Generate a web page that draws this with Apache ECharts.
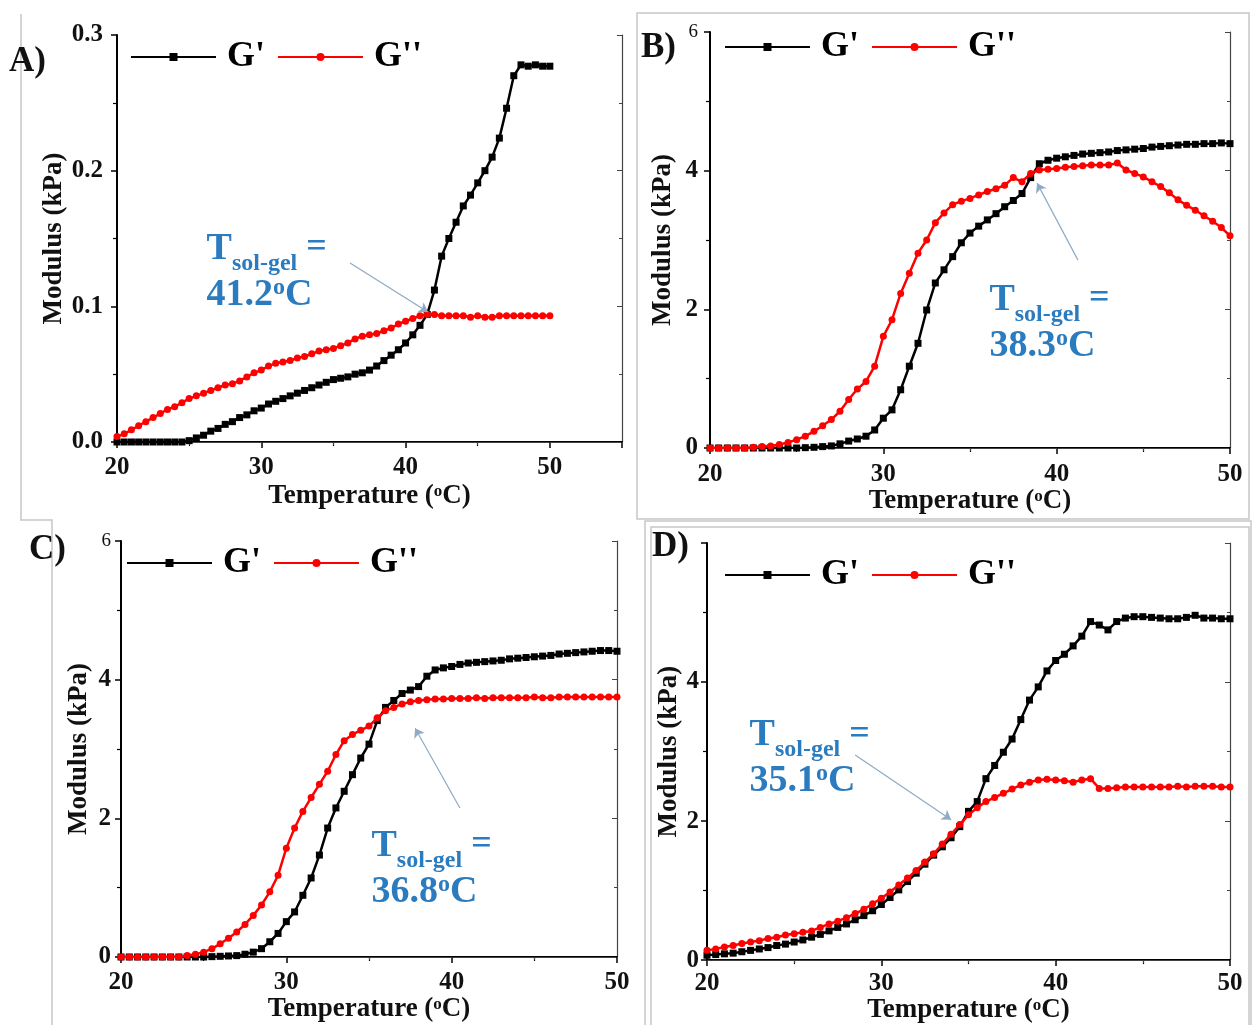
<!DOCTYPE html>
<html><head><meta charset="utf-8">
<script src="https://cdn.jsdelivr.net/npm/echarts@6/dist/echarts.min.js"></script>
<style>html,body{margin:0;padding:0;background:#fff}#c{width:1253px;height:1025px}</style>
</head><body><div id="c"></div>
<script>
// ---------------- DATA ----------------
const TEMP = [20,20.5,21,21.5,22,22.5,23,23.5,24,24.5,25,25.5,26,26.5,27,27.5,28,28.5,29,29.5,30,30.5,31,31.5,32,32.5,33,33.5,34,34.5,35,35.5,36,36.5,37,37.5,38,38.5,39,39.5,40,40.5,41,41.5,42,42.5,43,43.5,44,44.5,45,45.5,46,46.5,47,47.5,48,48.5,49,49.5,50];

const A_GP  = [0,0,0,0,0,0,0,0,0,0, 0.001,0.003,0.005,0.008,0.010,0.013,0.015,0.018,0.020,0.023, 0.025,0.028,0.030,0.032,0.034,0.036,0.038,0.040,0.042,0.044, 0.046,0.047,0.048,0.050,0.051,0.053,0.056,0.060,0.064,0.068, 0.073,0.079,0.086,0.094,0.112,0.137,0.150,0.162,0.174,0.182, 0.191,0.200,0.210,0.224,0.246,0.270,0.278,0.277,0.278,0.277,0.277];
const A_GPP = [0.004,0.006,0.009,0.012,0.015,0.018,0.021,0.024,0.026,0.029, 0.032,0.034,0.036,0.038,0.040,0.042,0.043,0.045,0.048,0.051, 0.053,0.056,0.058,0.059,0.060,0.062,0.063,0.065,0.067,0.068, 0.069,0.071,0.073,0.076,0.078,0.079,0.080,0.082,0.084,0.087, 0.089,0.091,0.093,0.094,0.094,0.093,0.093,0.093,0.093,0.092, 0.093,0.092,0.092,0.093,0.093,0.093,0.093,0.093,0.093,0.093,0.093];

const B_GP  = [0,0,0,0,0,0,0,0,0,0, 0,0.005,0.01,0.02,0.03,0.06,0.10,0.13,0.17,0.26, 0.43,0.55,0.84,1.18,1.51,1.99,2.38,2.57,2.76,2.96, 3.10,3.20,3.29,3.38,3.48,3.57,3.67,3.90,4.10,4.15, 4.18,4.20,4.22,4.24,4.25,4.26,4.27,4.29,4.30,4.31, 4.32,4.34,4.35,4.36,4.37,4.38,4.38,4.39,4.39,4.40,4.39];
const B_GPP = [0,0,0,0,0,0.01,0.02,0.03,0.05,0.08, 0.12,0.17,0.24,0.32,0.41,0.53,0.70,0.85,0.96,1.18, 1.61,1.85,2.23,2.52,2.81,3.00,3.25,3.39,3.51,3.56, 3.60,3.65,3.70,3.74,3.79,3.90,3.84,3.96,4.01,4.02, 4.03,4.05,4.06,4.07,4.08,4.08,4.08,4.11,4.01,3.96, 3.91,3.84,3.77,3.68,3.58,3.50,3.43,3.35,3.27,3.18,3.06];

const C_GP  = [0,0,0,0,0,0,0,0,0,0, 0,0.005,0.01,0.015,0.02,0.04,0.07,0.12,0.22,0.34, 0.51,0.65,0.89,1.14,1.47,1.86,2.15,2.39,2.63,2.87, 3.07,3.41,3.60,3.70,3.80,3.85,3.90,4.05,4.14,4.17, 4.19,4.22,4.24,4.25,4.26,4.27,4.28,4.30,4.31,4.32, 4.33,4.34,4.35,4.37,4.38,4.39,4.40,4.41,4.42,4.42,4.41];
const C_GPP = [0,0,0,0,0,0,0,0,0.02,0.04, 0.07,0.12,0.19,0.27,0.36,0.47,0.60,0.75,0.94,1.18, 1.57,1.86,2.10,2.30,2.49,2.68,2.92,3.12,3.21,3.27, 3.33,3.45,3.55,3.60,3.65,3.68,3.70,3.71,3.72,3.72, 3.73,3.73,3.73,3.74,3.73,3.74,3.74,3.74,3.74,3.74, 3.75,3.74,3.74,3.75,3.75,3.75,3.75,3.75,3.75,3.75,3.75];

const D_GP  = [0.07,0.08,0.09,0.10,0.12,0.14,0.16,0.18,0.21,0.23, 0.26,0.29,0.33,0.37,0.42,0.47,0.52,0.58,0.64,0.71, 0.80,0.90,1.01,1.13,1.25,1.38,1.51,1.63,1.76,1.92, 2.14,2.28,2.61,2.80,2.99,3.18,3.46,3.74,3.93,4.16, 4.31,4.40,4.52,4.66,4.87,4.82,4.75,4.87,4.92,4.94, 4.94,4.93,4.92,4.91,4.91,4.93,4.96,4.92,4.92,4.91,4.91];
const D_GPP = [0.14,0.16,0.19,0.21,0.24,0.26,0.28,0.31,0.33,0.36, 0.38,0.40,0.42,0.47,0.52,0.56,0.61,0.67,0.73,0.81, 0.89,0.98,1.08,1.18,1.29,1.41,1.53,1.67,1.81,1.95, 2.09,2.19,2.28,2.34,2.40,2.46,2.52,2.56,2.59,2.60, 2.59,2.58,2.56,2.59,2.61,2.47,2.47,2.48,2.49,2.49, 2.49,2.49,2.49,2.49,2.50,2.49,2.50,2.50,2.50,2.49,2.49];

const SERIES_NAMES = ["G'", "G''"];
const PANEL_LABELS = ['A)', 'B)', 'C)', 'D)'];
const TSOLGEL = ['41.2', '38.3', '36.8', '35.1'];
// annotation text anchor (top-left) and arrow [start, tip], in data units
const ANNOT_POS = [[26.24, 0.156], [36.15, 2.40], [35.18, 1.87], [22.47, 3.50]];
const ARROWS = [
  [[36.15, 0.132], [41.55, 0.0958]],
  [[41.23, 2.71], [38.87, 3.82]],
  [[40.5, 2.15], [37.79, 3.30]],
  [[28.5, 2.95], [34.0, 2.02]]
];

// ---------------- LAYOUT / STYLE ----------------
const SERIF = "'Liberation Serif','Times New Roman',serif";
const BLUE = '#2b7bbf';
const panels = [
  {grid:{left:117,top:35,width:505,height:407}, xMax:55, yMax:0.3, yInt:0.1, dec:1, gp:A_GP, gpp:A_GPP,
   legend:{left:130,top:39}, xGap:41, yGap:49, xMargin:13, yMargin:14, smallMax:false, hideMax:false},
  {grid:{left:710,top:32,width:520,height:416}, xMax:50, yMax:6, yInt:2, dec:0, gp:B_GP, gpp:B_GPP,
   legend:{left:724,top:29}, xGap:40, yGap:33, xMargin:14, yMargin:12, smallMax:true, hideMax:false},
  {grid:{left:121,top:541,width:496,height:416}, xMax:50, yMax:6, yInt:2, dec:0, gp:C_GP, gpp:C_GPP,
   legend:{left:126,top:545}, xGap:34, yGap:28, xMargin:13, yMargin:10, smallMax:true, hideMax:false},
  {grid:{left:707,top:543,width:523,height:423}, xMax:50, yMax:6, yInt:2, dec:0, gp:D_GP, gpp:D_GPP,
   legend:{left:724,top:557}, xGap:31, yGap:24, xMargin:11, yMargin:8, smallMax:false, hideMax:true}
];

const tickLabel = {fontFamily:SERIF, fontWeight:'bold', fontSize:25, color:'#111'};
const grids = [], xAxes = [], yAxes = [], series = [], legends = [];

panels.forEach((p, i) => {
  grids.push(Object.assign({containLabel:false}, p.grid));
  // bottom x
  xAxes.push({
    gridIndex:i, type:'value', min:20, max:p.xMax, interval:10, position:'bottom',
    axisLine:{lineStyle:{color:'#000', width:2}},
    axisTick:{show:true, inside:false, length:6, lineStyle:{color:'#000', width:1.5}},
    minorTick:{show:true, splitNumber:2, length:4, lineStyle:{color:'#000', width:1.2}},
    splitLine:{show:false},
    axisLabel:Object.assign({margin:p.xMargin, showMaxLabel: p.xMax === 50}, tickLabel),
    name:'{t|Temperature (}{s|o}{t|C)}', nameLocation:'middle', nameGap:p.xGap,
    nameTextStyle:{rich:{
      t:{fontFamily:SERIF, fontWeight:'bold', fontSize:27, color:'#111', lineHeight:28, verticalAlign:'top'},
      s:{fontFamily:SERIF, fontWeight:'bold', fontSize:17, color:'#111', lineHeight:17, verticalAlign:'top'}
    }}
  });
  // top mirror
  xAxes.push({
    gridIndex:i, type:'value', min:20, max:p.xMax, interval:10, position:'top',
    axisLine:{lineStyle:{color:'#444', width:1.2}},
    axisTick:{show:true, inside:true, length:5, lineStyle:{color:'#444', width:1}},
    minorTick:{show:true, splitNumber:2, length:3, lineStyle:{color:'#444', width:1}},
    splitLine:{show:false}, axisLabel:{show:false}
  });
  // left y
  yAxes.push({
    gridIndex:i, type:'value', min:0, max:p.yMax, interval:p.yInt, position:'left',
    axisLine:{lineStyle:{color:'#000', width:2}},
    axisTick:{show:true, inside:false, length:6, lineStyle:{color:'#000', width:1.5}},
    minorTick:{show:true, splitNumber:2, length:4, lineStyle:{color:'#000', width:1.2}},
    splitLine:{show:false},
    axisLabel:Object.assign({
      margin:p.yMargin, showMaxLabel: !p.hideMax,
      formatter:(v) => {
        const s = v.toFixed(p.dec);
        return (p.smallMax && Math.abs(v - p.yMax) < 1e-9) ? '{m|' + s + '}' : s;
      },
      rich:{m:{fontFamily:SERIF, fontWeight:'normal', fontSize:19, color:'#111'}}
    }, tickLabel),
    name:'Modulus (kPa)', nameLocation:'middle', nameRotate:90, nameGap:p.yGap,
    nameTextStyle:{fontFamily:SERIF, fontWeight:'bold', fontSize:27, color:'#111'}
  });
  // right mirror
  yAxes.push({
    gridIndex:i, type:'value', min:0, max:p.yMax, interval:p.yInt, position:'right',
    axisLine:{lineStyle:{color:'#444', width:1.2}},
    axisTick:{show:true, inside:true, length:5, lineStyle:{color:'#444', width:1}},
    minorTick:{show:true, splitNumber:2, length:3, lineStyle:{color:'#444', width:1}},
    splitLine:{show:false}, axisLabel:{show:false}
  });

  series.push({
    name:SERIES_NAMES[0], type:'line', xAxisIndex:2*i, yAxisIndex:2*i,
    data:TEMP.map((t, k) => [t, p.gp[k]]),
    symbol:'rect', symbolSize:7, showAllSymbol:true,
    lineStyle:{color:'#000', width:2.5}, itemStyle:{color:'#000'},
    animation:false, z:3
  });
  series.push({
    name:SERIES_NAMES[1], type:'line', xAxisIndex:2*i, yAxisIndex:2*i,
    data:TEMP.map((t, k) => [t, p.gpp[k]]),
    symbol:'circle', symbolSize:7, showAllSymbol:true,
    lineStyle:{color:'#f00', width:2.5}, itemStyle:{color:'#f00'},
    animation:false, z:4,
    markLine:{
      silent:true, animation:false, symbol:['none','arrow'], symbolSize:9,
      lineStyle:{color:'#8eaac4', width:1.2, type:'solid'},
      label:{show:false},
      data:[[{coord:ARROWS[i][0]}, {coord:ARROWS[i][1], itemStyle:{color:'#4a8fd0'}}]]
    },
    markPoint:{
      silent:true, animation:false, symbol:'rect', symbolSize:1,
      itemStyle:{color:'rgba(0,0,0,0)'},
      data:[{coord:ANNOT_POS[i], value:TSOLGEL[i]}],
      label:{
        show:true, position:[0,0], align:'left', verticalAlign:'top',
        formatter:(prm) => '{T|T}{s|sol-gel}{e| =}\n{n|' + prm.value + '}{o|o}{n|C}',
        rich:{
          T:{fontFamily:SERIF, fontWeight:'bold', fontSize:38, color:BLUE, lineHeight:46, verticalAlign:'top'},
          s:{fontFamily:SERIF, fontWeight:'bold', fontSize:24, color:BLUE, lineHeight:24, padding:[22,0,4,0], verticalAlign:'top'},
          e:{fontFamily:SERIF, fontWeight:'bold', fontSize:36, color:BLUE, lineHeight:46, verticalAlign:'top'},
          n:{fontFamily:SERIF, fontWeight:'bold', fontSize:38, color:BLUE, lineHeight:40, verticalAlign:'top'},
          o:{fontFamily:SERIF, fontWeight:'bold', fontSize:24, color:BLUE, lineHeight:22, verticalAlign:'top'}
        }
      }
    }
  });

  legends.push({
    left:p.legend.left, top:p.legend.top, padding:0, orient:'horizontal',
    itemWidth:85, itemHeight:10, itemGap:12, selectedMode:false,
    data:SERIES_NAMES,
    textStyle:{fontFamily:SERIF, fontWeight:'bold', fontSize:36, color:'#000', padding:[0,0,0,6]}
  });
});

const frameStyle = {fill:'none', stroke:'#c6c6c6', lineWidth:1.5};
const graphics = [
  {type:'polyline', shape:{points:[[21,14],[21,520],[52,520],[52,1025]]}, style:frameStyle, silent:true},
  {type:'rect', shape:{x:637, y:13, width:612, height:506}, style:frameStyle, silent:true},
  {type:'rect', shape:{x:645, y:521, width:606, height:510}, style:frameStyle, silent:true},
  {type:'rect', shape:{x:651, y:527, width:598, height:500}, style:frameStyle, silent:true}
];
const labelPos = [[9,44],[641,30],[29,532],[652,529]];
PANEL_LABELS.forEach((t, i) => {
  graphics.push({type:'text', left:labelPos[i][0], top:labelPos[i][1], silent:true,
    style:{text:t, font:"bold 35px 'Liberation Serif', serif", fill:'#111'}});
});

const chart = echarts.init(document.getElementById('c'), null, {renderer:'canvas'});
chart.setOption({
  animation:false,
  backgroundColor:'#fff',
  grid:grids, xAxis:xAxes, yAxis:yAxes, series:series, legend:legends,
  graphic:graphics
});
</script>
</body></html>
